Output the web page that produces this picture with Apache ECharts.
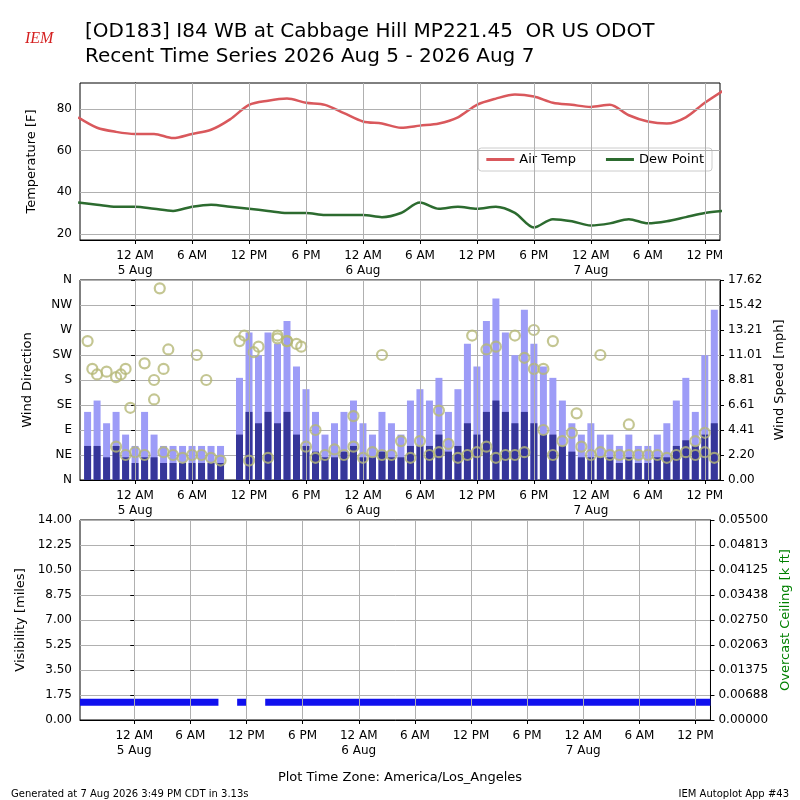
<!DOCTYPE html>
<html style="height: 100%">
<head><meta charset="utf-8"></head>
<body style="height: 100%; margin: 0; background: #fff">
<div id="container" style="width: 800px; height: 800px"></div>
<script src="https://cdn.jsdelivr.net/npm/echarts@6/dist/echarts.min.js"></script>
<script>
// hours relative to 12 AM 5 Aug (America/Los_Angeles)
var xMin = -5.8, xMax = 61.6;
var tickHours = [0, 6, 12, 18, 24, 30, 36, 42, 48, 54, 60];

// temperature / dew point, every 2 hours from -6
var tempHours = [-6,-4,-2,0,2,4,6,8,10,12,14,16,18,20,22,24,26,28,30,32,34,36,38,40,42,44,46,48,50,52,54,56,58,60,62];
var airTemp = [76,71,69,68,68,66,68,70,75,82,84,85,83,82,78,74,73,71,72,73,76,82,85,87,86,83,82,81,82,77,74,73,76,83,89];
var dewPoint = [35,34,33,33,32,31,33,34,33,32,31,30,30,29,29,29,28,30,35,32,33,32,33,30,23,27,26,24,25,27,25,26,28,30,31];

// wind, hourly from -5 to 61
var windStart = -5;
var windGust = [6,7,5,6,4, 3,6,4,3,3,3,3,3,3,3, null, 9,13,11,13,12,14,10, 8,6,4, 5,6,7,5,4,6,5,4,7, 8,7,9,6,8, 12,10,14,16,13,11,15,12,10,9, 7,5,4,5,4, 4,3,4,3,3,4, 5,7,9,6,11,15];
var windSpeed = [3,3,2,3,2, 1.5,2,2,1.5,1.5,1.5,1.5,1.5,1.5,1.5, null, 4,6,5,6,5,6,4, 3,2.5,2, 2,2.5,3,2,2,2.5,2,2,3, 3,3,4,2.5,3, 5,4,6,7,6,5,6,5,4,4, 3,2.5,2,2,2, 2,1.5,2,1.5,1.5,2, 2,3,3.5,3,4,5];
var windDir = [250,190,195,60,45, 50,45,180,50,45,40,45,45,40,35, null, 250,35,240,40,260,250,245, 60,40,45, 55,45,60,40,50,45,45,70,40, 70,45,50,65,40, 45,50,60,40,45,45,50,270,200,45, 70,85,60,45,50, 45,45,45,45,45,45, 40,45,50,45,50,40];
var extraDirHours = [-4.5,-2,-1.5,-0.5,2,2.6,3,3.5,6.5,7.5,11.5,12.5,15,16,17.5,19,23,26,32,35.5,37,38,40,41,42,43,44,46.5,49,52,59,60,-1,1];
var extraDir = [200,185,190,130,145,345,200,235,225,180,260,230,255,250,240,90,115,225,125,260,235,240,260,220,200,90,250,120,225,100,70,85,200,210];

// visibility, hourly from -5 to 61 plus end point (null = missing)
var visHours = [-5.8,-5,-4,-3,-2,-1,0,1,2,3,4,5,6,7,8,9,10,11,12,13,14,15,16,17,18,19,20,21,22,23,24,25,26,27,28,29,30,31,32,33,34,35,36,37,38,39,40,41,42,43,44,45,46,47,48,49,50,51,52,53,54,55,56,57,58,59,60,61,61.6];
var visibility = [1.25,1.25,1.25,1.25,1.25,1.25, 1.25,1.25,1.25,1.25,1.25,1.25,1.25,1.25,1.25,1.25, null, 1.25,1.25,null,1.25,1.25,1.25,1.25, 1.25,1.25,1.25, 1.25,1.25,1.25,1.25,1.25,1.25,1.25,1.25,1.25, 1.25,1.25,1.25,1.25,1.25, 1.25,1.25,1.25,1.25,1.25,1.25,1.25,1.25,1.25,1.25, 1.25,1.25,1.25,1.25,1.25, 1.25,1.25,1.25,1.25,1.25,1.25, 1.25,1.25,1.25,1.25,1.25,1.25,1.25];

var dirLabels = ['N','NE','E','SE','S','SW','W','NW','N'];

function pairs(xs, ys) { return ys.map(function (v, i) { return [xs[i], v]; }); }
var windHours = windGust.map(function (v, i) { return windStart + i; });

var font = 'DejaVu Sans';
function xAxisFor(gi) {
  return {
    type: 'value', gridIndex: gi, min: xMin, max: xMax,
    axisLine: { onZero: false, lineStyle: { color: '#000' } },
    axisTick: { customValues: tickHours, length: 4, lineStyle: { color: '#000' } },
    axisLabel: {
      customValues: tickHours, color: '#000', fontFamily: font, fontSize: 12, lineHeight: 15,
      formatter: function (h) {
        var hh = ((h % 24) + 24) % 24;
        var t = hh === 0 ? '12 AM' : hh === 12 ? '12 PM' : hh < 12 ? hh + ' AM' : (hh - 12) + ' PM';
        if (hh === 0) t += '\n' + (5 + Math.round(h / 24)) + ' Aug';
        return t;
      }
    },
    splitLine: { show: false }
  };
}
function vlines() {
  return { silent: true, symbol: 'none', label: { show: false },
    lineStyle: { color: '#b0b0b0', type: 'solid', width: 1 },
    data: tickHours.map(function (h) { return { xAxis: h }; }) };
}
var yBase = {
  axisLine: { show: true, lineStyle: { color: '#000' } },
  axisTick: { show: true, length: 4, lineStyle: { color: '#000' } },
  axisLabel: { color: '#000', fontFamily: font, fontSize: 12 },
  nameLocation: 'middle', nameTextStyle: { color: '#000', fontFamily: font, fontSize: 13 }
};
function y(o) { return Object.assign({}, JSON.parse(JSON.stringify(yBase)), o, { axisLabel: Object.assign({}, yBase.axisLabel, o.axisLabel || {}) }); }

var gridStyle = { show: true, borderColor: '#000', borderWidth: 1, backgroundColor: 'transparent' };

var option = {
  animation: false,
  backgroundColor: '#fff',
  title: [
    { text: '[OD183] I84 WB at Cabbage Hill MP221.45  OR US ODOT\nRecent Time Series 2026 Aug 5 - 2026 Aug 7', left: 80, top: 14,
      textStyle: { fontFamily: font, fontSize: 20, fontWeight: 'normal', color: '#000', lineHeight: 25 } },
    { text: 'IEM', left: 20, top: 26, textStyle: { fontFamily: 'Liberation Serif', fontStyle: 'italic', fontSize: 16, fontWeight: 'normal', color: '#d42020' } },
    { text: 'Plot Time Zone: America/Los_Angeles', left: 'center', top: 766, textStyle: { fontFamily: font, fontSize: 13, fontWeight: 'normal', color: '#000' } },
    { text: 'Generated at 7 Aug 2026 3:49 PM CDT in 3.13s', left: 6, top: 784, textStyle: { fontFamily: font, fontSize: 10, fontWeight: 'normal', color: '#000' } },
    { text: 'IEM Autoplot App #43', right: 6, top: 784, textStyle: { fontFamily: font, fontSize: 10, fontWeight: 'normal', color: '#000' } }
  ],
  legend: {
    data: ['Air Temp', 'Dew Point'], right: 88, top: 148, itemGap: 30, itemWidth: 28, itemHeight: 3,
    icon: 'rect', borderColor: '#ccc', borderWidth: 1, borderRadius: 3, padding: [5, 8], backgroundColor: '#fff',
    textStyle: { fontFamily: font, fontSize: 13, color: '#000' }
  },
  grid: [
    Object.assign({ left: 80, right: 80, top: 83, height: 157 }, gridStyle),
    Object.assign({ left: 80, right: 80, top: 280, height: 200 }, gridStyle),
    Object.assign({ left: 80, right: 80, top: 520, height: 200 }, gridStyle)
  ],
  xAxis: [xAxisFor(0), xAxisFor(1), xAxisFor(2)],
  yAxis: [
    y({ gridIndex: 0, min: 17, max: 92.5, interval: 20, name: 'Temperature [F]', nameGap: 42,
        axisLabel: { customValues: [20, 40, 60, 80] }, axisTick: { customValues: [20, 40, 60, 80], length: 4, lineStyle: { color: '#000' } },
        splitLine: { show: false } }),
    y({ gridIndex: 1, min: 0, max: 360, interval: 45, name: 'Wind Direction', nameGap: 46,
        axisLabel: { formatter: function (v) { return dirLabels[Math.round(v / 45)]; } },
        splitLine: { lineStyle: { color: '#b0b0b0' } } }),
    y({ gridIndex: 1, position: 'right', min: 0, max: 17.62, interval: 2.2025, name: 'Wind Speed [mph]', nameGap: 46,
        axisLabel: { formatter: function (v) { return v.toFixed(2); } }, splitLine: { show: false } }),
    y({ gridIndex: 2, min: 0, max: 14, interval: 1.75, name: 'Visibility [miles]', nameGap: 46,
        axisLabel: { formatter: function (v) { return v.toFixed(2); } },
        splitLine: { lineStyle: { color: '#b0b0b0' } } }),
    y({ gridIndex: 2, position: 'right', min: 0, max: 0.055, interval: 0.006875, name: 'Overcast Ceiling [k ft]', nameGap: 64,
        nameTextStyle: { color: 'green', fontFamily: font, fontSize: 13 },
        axisLabel: { formatter: function (v) { return v.toFixed(5); } }, splitLine: { show: false } })
  ],
  series: [
    { name: 'grid0', type: 'line', xAxisIndex: 0, yAxisIndex: 0, data: [], markLine: Object.assign(vlines(), {
        data: tickHours.map(function (h) { return { xAxis: h }; }).concat([20, 40, 60, 80].map(function (v) { return { yAxis: v }; })) }) },
    { name: 'Air Temp', type: 'line', xAxisIndex: 0, yAxisIndex: 0, data: pairs(tempHours, airTemp), showSymbol: false, smooth: 0.3,
      color: '#d9585c', lineStyle: { width: 2.5 } },
    { name: 'Dew Point', type: 'line', xAxisIndex: 0, yAxisIndex: 0, data: pairs(tempHours, dewPoint), showSymbol: false, smooth: 0.3,
      color: '#2c6b2f', lineStyle: { width: 2.5 } },
    { type: 'line', xAxisIndex: 1, yAxisIndex: 1, data: [], markLine: vlines() },
    { type: 'bar', xAxisIndex: 1, yAxisIndex: 2, data: pairs(windHours, windGust), barWidth: 7, barGap: '-100%', itemStyle: { color: '#9d9cf7' } },
    { type: 'bar', xAxisIndex: 1, yAxisIndex: 2, data: pairs(windHours, windSpeed), barWidth: 7, barGap: '-100%', itemStyle: { color: '#36369a' } },
    { type: 'scatter', xAxisIndex: 1, yAxisIndex: 1, data: pairs(windHours, windDir).concat(pairs(extraDirHours, extraDir)),
      symbolSize: 10, itemStyle: { color: 'rgba(0,0,0,0)', borderColor: '#b5b877', borderWidth: 2.2 } },
    { type: 'line', xAxisIndex: 2, yAxisIndex: 3, data: [], markLine: vlines() },
    { type: 'line', xAxisIndex: 2, yAxisIndex: 3, data: pairs(visHours, visibility), showSymbol: false, connectNulls: false,
      lineStyle: { color: '#1010ee', width: 7 } }
  ]
};
echarts.init(document.getElementById('container')).setOption(option);
</script>
</body>
</html>
